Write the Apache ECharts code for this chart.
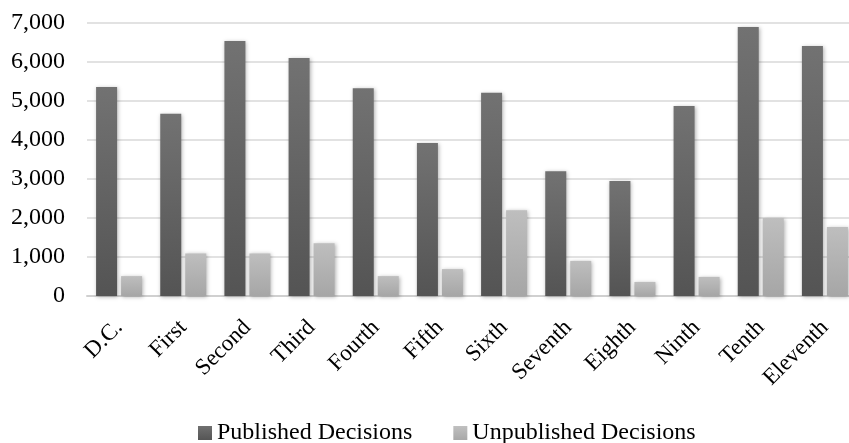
<!DOCTYPE html>
<html>
<head>
<meta charset="utf-8">
<script src="https://cdn.jsdelivr.net/npm/echarts@6/dist/echarts.min.js"></script>
<style>html,body{margin:0;padding:0;background:#fff;}#c{width:849px;height:443px;}</style>
</head>
<body>
<div id="c"></div>
<script>
var categories = ['D.C.', 'First', 'Second', 'Third', 'Fourth', 'Fifth', 'Sixth', 'Seventh', 'Eighth', 'Ninth', 'Tenth', 'Eleventh'];
var published = [5360, 4670, 6540, 6100, 5330, 3920, 5210, 3200, 2950, 4870, 6900, 6410];
var unpublished = [510, 1090, 1090, 1350, 510, 690, 2200, 900, 360, 490, 2000, 1770];
var yTicks = [0, 1000, 2000, 3000, 4000, 5000, 6000, 7000];

var font = '"Liberation Serif", "Times New Roman", serif';
var chart = echarts.init(document.getElementById('c'), null, {renderer: 'canvas'});
function grad(top, bottom) {
  return new echarts.graphic.LinearGradient(0, 0, 0, 1, [
    {offset: 0, color: top}, {offset: 1, color: bottom}
  ]);
}
chart.setOption({
  animation: false,
  backgroundColor: '#ffffff',
  grid: {left: 87, right: -8, top: 23, bottom: 147, containLabel: false, outerBoundsMode: 'none'},
  legend: {
    left: 198, top: 421, padding: 0,
    itemWidth: 14, itemHeight: 14, itemGap: 41,
    icon: 'rect',
    textStyle: {fontFamily: font, fontSize: 24, color: '#000'},
    data: [
      {name: 'Published Decisions', itemStyle: {color: grad('#707070', '#555555')}},
      {name: 'Unpublished Decisions', itemStyle: {color: grad('#c0c0c0', '#a8a8a8')}}
    ]
  },
  xAxis: {
    type: 'category',
    data: categories,
    axisTick: {show: false},
    axisLine: {lineStyle: {color: '#d0d0d0', width: 2}},
    axisLabel: {rotate: 45, interval: 0, margin: 28, fontFamily: font, fontSize: 23, color: '#000'}
  },
  yAxis: {
    type: 'value',
    min: yTicks[0], max: yTicks[yTicks.length - 1], interval: 1000,
    axisLine: {show: false},
    axisTick: {show: false},
    splitLine: {lineStyle: {color: '#d9d9d9', width: 1.5}},
    axisLabel: {
      margin: 22, fontFamily: font, fontSize: 24, color: '#000',
      formatter: function (v) { return v.toLocaleString('en-US'); }
    }
  },
  series: [
    {
      name: 'Published Decisions', type: 'bar', data: published,
      barWidth: 21, barGap: '19%',
      itemStyle: {color: grad('#727272', '#545454'), shadowBlur: 4, shadowColor: 'rgba(0,0,0,0.3)', shadowOffsetX: 1, shadowOffsetY: 1}
    },
    {
      name: 'Unpublished Decisions', type: 'bar', data: unpublished,
      barWidth: 21, barGap: '19%',
      itemStyle: {color: grad('#bebebe', '#a6a6a6'), shadowBlur: 4, shadowColor: 'rgba(0,0,0,0.3)', shadowOffsetX: 1, shadowOffsetY: 1}
    }
  ]
});
</script>
</body>
</html>
